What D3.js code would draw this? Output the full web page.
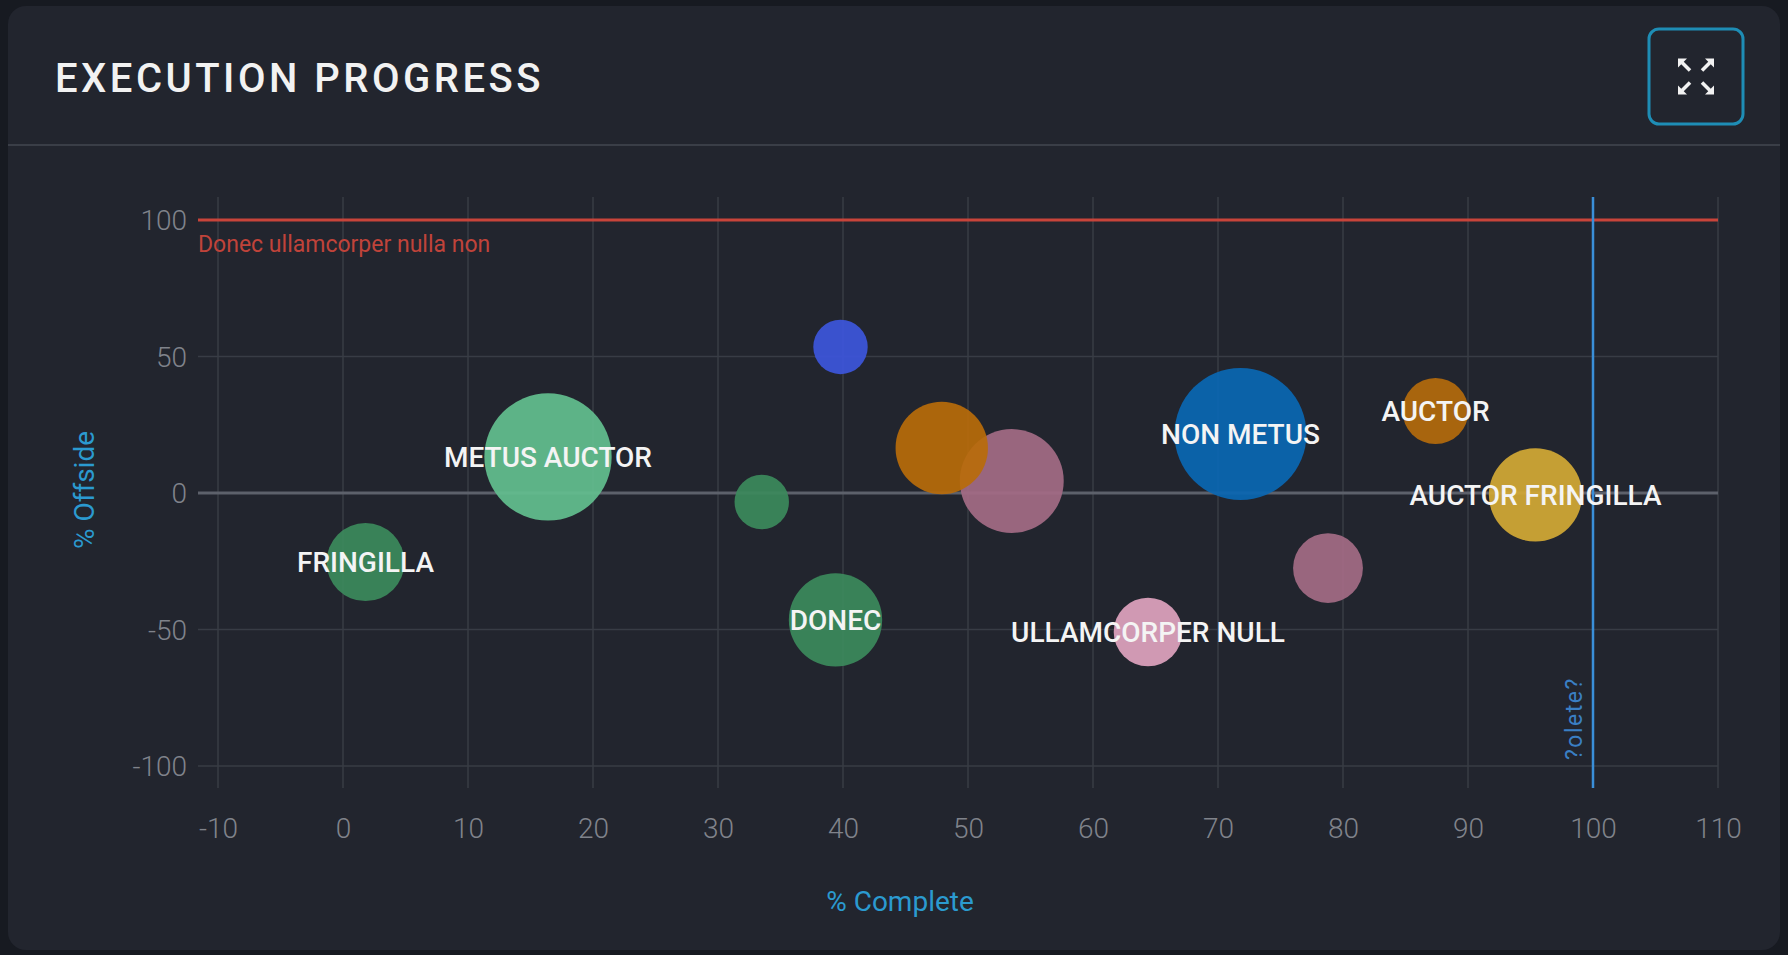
<!DOCTYPE html>
<html>
<head>
<meta charset="utf-8">
<script src="https://cdn.jsdelivr.net/npm/d3@7/dist/d3.min.js"></script>
<style>
  html, body { margin: 0; padding: 0; background: #171a21; }
  svg { display: block; font-family: Roboto, "Noto Sans", sans-serif; }
</style>
</head>
<body>
<svg id="chart" width="1788" height="955"></svg>
<script>
// ---- data ----
const labels   = ["FRINGILLA", "METUS AUCTOR", "", "", "DONEC", "", "", "ULLAMCORPER NULL", "NON METUS", "", "AUCTOR", "AUCTOR FRINGILLA"];
const complete = [1.8, 16.4, 33.5, 39.8, 39.4, 47.9, 53.5, 64.4, 71.8, 78.8, 87.4, 95.4];
const offside  = [-25.3, 13.2, -3.3, 53.5, -46.5, 16.5, 4.4, -50.9, 21.6, -27.5, 30.0, -0.7];
const sizes    = [35, 93, 17, 17, 50, 49, 62, 27, 100, 28, 25, 50];
const colors   = ["#3c8a5c", "#63bf8f", "#3c8a5c", "#3d56dc", "#3c8a5c", "#b86b0a", "#a46b85", "#e0a3bf", "#0a67b3", "#a46b85", "#b46a0c", "#d4a935"];
const xTicks   = [-10, 0, 10, 20, 30, 40, 50, 60, 70, 80, 90, 100, 110];
const yTicks   = [-100, -50, 0, 50, 100];
const titleText = "EXECUTION PROGRESS";
const xTitle = "% Complete";
const yTitle = "% Offside";
const hLineValue = 100, hLineLabel = "Donec ullamcorper nulla non";
const vLineValue = 100, vLineLabel = "?olete?";

const svg = d3.select("#chart");

// card
svg.append("rect").attr("x", 8).attr("y", 6).attr("width", 1772).attr("height", 944)
  .attr("rx", 18).attr("fill", "#22252e");
svg.append("line").attr("x1", 8).attr("x2", 1780).attr("y1", 145).attr("y2", 145)
  .attr("stroke", "#3a3e47").attr("stroke-width", 2);

svg.append("text").attr("x", 55).attr("y", 92).text(titleText)
  .attr("fill", "#f2f2f2").attr("font-size", 40).attr("font-weight", 500)
  .attr("letter-spacing", 3.5);

// expand button
const bx = 1649, by = 29, bw = 94, bh = 95;
svg.append("rect").attr("x", bx).attr("y", by).attr("width", bw).attr("height", bh)
  .attr("rx", 10).attr("fill", "none").attr("stroke", "#1e8db5").attr("stroke-width", 3);
const cx = bx + bw / 2, cy = by + bh / 2;
[[-1, -1], [1, -1], [-1, 1], [1, 1]].forEach(([dx, dy]) => {
  const c = [cx + 18 * dx, cy + 18 * dy];
  svg.append("line").attr("x1", cx + 6 * dx).attr("y1", cy + 6 * dy)
    .attr("x2", cx + 14 * dx).attr("y2", cy + 14 * dy)
    .attr("stroke", "#f2f2f2").attr("stroke-width", 3.5);
  svg.append("path").attr("d", `M${c[0]},${c[1]} L${c[0] - 9 * dx},${c[1]} L${c[0]},${c[1] - 9 * dy} Z`)
    .attr("fill", "#f2f2f2");
});

// scales
const x = d3.scaleLinear().domain([-10, 110]).range([218, 1718]);
const y = d3.scaleLinear().domain([-100, 100]).range([766, 220]);
const r = d3.scaleSqrt().domain([0, 100]).range([0, 66]);

const gridTop = 197, gridBottom = 788, gridLeft = 198;

// vertical grid
svg.append("g").selectAll("line").data(xTicks).join("line")
  .attr("x1", d => x(d)).attr("x2", d => x(d))
  .attr("y1", gridTop).attr("y2", gridBottom)
  .attr("stroke", "#383c45").attr("stroke-width", 1.5);
// horizontal grid
svg.append("g").selectAll("line").data(yTicks).join("line")
  .attr("x1", gridLeft).attr("x2", x(110))
  .attr("y1", d => y(d)).attr("y2", d => y(d))
  .attr("stroke", d => d === 0 ? "#5d616b" : "#383c45")
  .attr("stroke-width", d => d === 0 ? 3 : 1.5);

// axes (labels only)
const fmt = d => String(d);
const xAxis = d3.axisBottom(x).tickValues(xTicks).tickSize(0).tickPadding(0).tickFormat(fmt);
const gx = svg.append("g").attr("transform", `translate(0,${838})`).call(xAxis);
gx.select(".domain").remove();
gx.selectAll("text").attr("fill", "#80838b").attr("font-size", 28).attr("font-weight", 300)
  .attr("font-family", "Roboto").attr("dy", 0);

const yAxis = d3.axisLeft(y).tickValues(yTicks).tickSize(0).tickPadding(0).tickFormat(fmt);
const gy = svg.append("g").attr("transform", `translate(${187},0)`).call(yAxis);
gy.select(".domain").remove();
gy.selectAll("text").attr("fill", "#80838b").attr("font-size", 28).attr("font-weight", 300)
  .attr("font-family", "Roboto").attr("dy", "0.35em");

// axis titles
svg.append("text").attr("x", 900).attr("y", 911).attr("text-anchor", "middle")
  .attr("fill", "#2b9ad0").attr("font-size", 28).text(xTitle);
svg.append("text").attr("transform", `translate(94,490) rotate(-90)`).attr("text-anchor", "middle")
  .attr("fill", "#2b9ad0").attr("font-size", 28).text(yTitle);

// reference lines
svg.append("line").attr("x1", gridLeft).attr("x2", x(110))
  .attr("y1", y(hLineValue)).attr("y2", y(hLineValue))
  .attr("stroke", "#c8443a").attr("stroke-width", 3);
svg.append("text").attr("x", gridLeft).attr("y", y(hLineValue) + 32)
  .attr("fill", "#c0433a").attr("font-size", 23).text(hLineLabel);

svg.append("line").attr("x1", x(vLineValue)).attr("x2", x(vLineValue))
  .attr("y1", gridTop).attr("y2", gridBottom)
  .attr("stroke", "#3a8fd9").attr("stroke-width", 2.5);
svg.append("text").attr("transform", `translate(${x(vLineValue) - 11},760) rotate(-90)`)
  .attr("fill", "#3a7fc4").attr("font-size", 23).attr("letter-spacing", 1.5).text(vLineLabel);

// bubbles
const data = labels.map((l, i) => ({ label: l, x: complete[i], y: offside[i], s: sizes[i], c: colors[i] }));
const sorted = data.slice().sort((a, b) => b.s - a.s);
svg.append("g").selectAll("circle").data(sorted).join("circle")
  .attr("cx", d => x(d.x)).attr("cy", d => y(d.y)).attr("r", d => r(d.s))
  .attr("fill", d => d.c).attr("fill-opacity", 0.92);

svg.append("g").selectAll("text").data(data.filter(d => d.label)).join("text")
  .attr("x", d => x(d.x)).attr("y", d => y(d.y)).attr("dy", "0.36em")
  .attr("text-anchor", "middle").attr("fill", "#f4f4f4")
  .attr("font-size", 28).attr("font-weight", 500).text(d => d.label);
</script>
</body>
</html>
